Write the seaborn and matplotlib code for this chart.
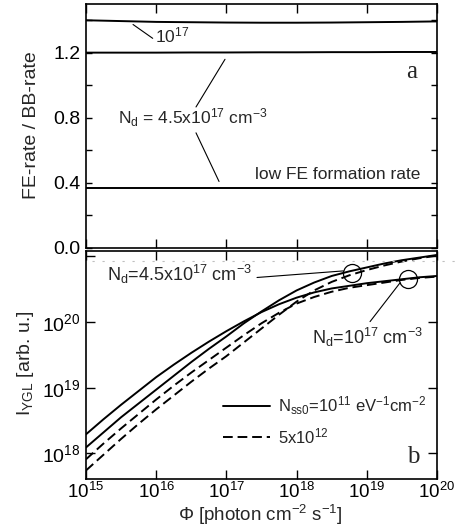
import numpy as np
import pandas as pd
import matplotlib
matplotlib.use("Agg")
import matplotlib.pyplot as plt
import seaborn as sns
from matplotlib.lines import Line2D
from matplotlib.ticker import FixedLocator, NullLocator, FixedFormatter

# panel a x grid, log10 of photon flux
log_flux_a = [15, 15.5, 16, 16.5, 17, 17.5, 18, 18.5, 19, 19.5, 20]

# panel a: FE-rate / BB-rate
ratio_nd1e17 = [1.400, 1.395, 1.390, 1.388, 1.386, 1.385, 1.385, 1.386, 1.388, 1.390, 1.393]
ratio_nd45e17 = [1.201, 1.201, 1.201, 1.202, 1.202, 1.203, 1.203, 1.204, 1.204, 1.205, 1.205]
ratio_low_fe = [0.367, 0.367, 0.367, 0.367, 0.367, 0.367, 0.367, 0.367, 0.367, 0.367, 0.367]

# panel b x grid
log_flux_b = [15, 15.25, 15.5, 15.75, 16, 16.25, 16.5, 16.75, 17, 17.25, 17.5,
              17.75, 18, 18.25, 18.5, 18.75, 19, 19.25, 19.5, 19.75, 20]

# panel b: log10 of I_YGL
iygl_nd1e17_nss1e11 = [18.29, 18.52, 18.74, 18.95, 19.16, 19.35, 19.53, 19.70, 19.86, 20.01, 20.15,
                       20.27, 20.37, 20.45, 20.51, 20.55, 20.59, 20.62, 20.65, 20.68, 20.70]
iygl_nd45e17_nss1e11 = [18.09, 18.32, 18.55, 18.76, 18.97, 19.18, 19.39, 19.59, 19.78, 19.98, 20.16,
                        20.33, 20.48, 20.60, 20.70, 20.77, 20.83, 20.89, 20.94, 20.98, 21.02]
iygl_nd1e17_nss5e12 = [17.91, 18.15, 18.38, 18.60, 18.82, 19.03, 19.23, 19.42, 19.61, 19.80, 19.98,
                       20.14, 20.28, 20.38, 20.46, 20.52, 20.56, 20.60, 20.64, 20.67, 20.69]
iygl_nd45e17_nss5e12 = [17.74, 17.98, 18.22, 18.45, 18.67, 18.88, 19.09, 19.29, 19.48, 19.69, 19.90,
                        20.11, 20.31, 20.48, 20.61, 20.71, 20.79, 20.86, 20.92, 20.97, 21.01]

sns.set_style("ticks")
plt.rcParams["font.family"] = ["Liberation Sans", "DejaVu Sans"]
plt.rcParams["mathtext.default"] = "regular"
plt.rcParams["axes.linewidth"] = 1.2
plt.rcParams["axes.edgecolor"] = "black"
plt.rcParams["xtick.color"] = "black"
plt.rcParams["ytick.color"] = "black"

flux_a = [10 ** v for v in log_flux_a]
flux_b = [10 ** v for v in log_flux_b]

df_a = pd.concat([
    pd.DataFrame({"flux": flux_a, "ratio": ratio_nd1e17, "case": "nd1e17"}),
    pd.DataFrame({"flux": flux_a, "ratio": ratio_nd45e17, "case": "nd45e17"}),
    pd.DataFrame({"flux": flux_a, "ratio": ratio_low_fe, "case": "lowfe"}),
])

rows = []
for vals, nd, nss in [(iygl_nd1e17_nss1e11, "1e17", "1e11"),
                      (iygl_nd45e17_nss1e11, "4.5e17", "1e11"),
                      (iygl_nd1e17_nss5e12, "1e17", "5e12"),
                      (iygl_nd45e17_nss5e12, "4.5e17", "5e12")]:
    rows.append(pd.DataFrame({"flux": flux_b, "I": [10 ** v for v in vals], "Nd": nd, "Nss": nss}))
df_b = pd.concat(rows)

fig = plt.figure(figsize=(4.68, 5.26), dpi=100)
ax1 = fig.add_axes([86 / 468, 1 - 248 / 526, 351 / 468, 244 / 526])
ax2 = fig.add_axes([86 / 468, 1 - 479 / 526, 351 / 468, 228 / 526])

# ---- panel a
ax1.set_xscale("log")
sns.lineplot(data=df_a, x="flux", y="ratio", units="case", estimator=None,
             color="black", lw=1.4, ax=ax1, legend=False)
ax1.set_xlim(1e15, 1e20)
ax1.set_ylim(0, 1.5)
ax1.xaxis.set_major_locator(FixedLocator([1e15, 1e16, 1e17, 1e18, 1e19, 1e20]))
ax1.xaxis.set_minor_locator(NullLocator())
ax1.yaxis.set_major_locator(FixedLocator([0.0, 0.2, 0.4, 0.6, 0.8, 1.0, 1.2, 1.4]))
ax1.yaxis.set_major_formatter(FixedFormatter(["0.0", "", "0.4", "", "0.8", "", "1.2", ""]))
ax1.tick_params(axis="x", direction="in", length=6.5, width=1, top=True, bottom=True,
                labelbottom=False)
ax1.tick_params(axis="y", direction="in", length=4.5, width=1, left=True, right=True,
                labelsize=14, pad=4)
ax1.set_xlabel("")
ax1.set_ylabel("")

ax1.text(10 ** 15.98, 1.307, "10$^{17}$", fontsize=12.5, ha="left", va="center")
ax1.plot([10 ** 15.67, 10 ** 15.95], [1.374, 1.289], color="black", lw=0.8)
ax1.text(10 ** 15.456, 0.80, "N$_{d}$ = 4.5x10$^{17}$ cm$^{-3}$", fontsize=12.5,
         ha="left", va="center")
ax1.plot([10 ** 16.567, 10 ** 16.98], [0.867, 1.160], color="black", lw=0.8)
ax1.plot([10 ** 16.567, 10 ** 16.895], [0.708, 0.409], color="black", lw=0.8)
ax1.text(10 ** 19.77, 0.452, "low FE formation rate", fontsize=12.5, ha="right", va="center")
ax1.text(10 ** 19.644, 1.081, "a", fontsize=18, family="Liberation Serif",
         ha="center", va="center")

# ---- panel b
ax2.set_xscale("log")
ax2.set_yscale("log")
sns.lineplot(data=df_b, x="flux", y="I", style="Nss", units="Nd", estimator=None,
             color="black", lw=1.4, dashes={"1e11": "", "5e12": (5, 2.5)},
             ax=ax2, legend=False)
ax2.set_xlim(1e15, 1e20)
ax2.set_ylim(10 ** 17.61, 10 ** 21.08)
ax2.xaxis.set_major_locator(FixedLocator([1e15, 1e16, 1e17, 1e18, 1e19, 1e20]))
ax2.xaxis.set_minor_locator(NullLocator())
ax2.xaxis.set_major_formatter(FixedFormatter(["10$^{15}$", "10$^{16}$", "10$^{17}$",
                                              "10$^{18}$", "10$^{19}$", "10$^{20}$"]))
ax2.yaxis.set_major_locator(FixedLocator([1e18, 1e19, 1e20, 1e21]))
ax2.yaxis.set_minor_locator(NullLocator())
ax2.yaxis.set_major_formatter(FixedFormatter(["10$^{18}$", "10$^{19}$", "10$^{20}$", ""]))
ax2.tick_params(axis="x", direction="in", length=6.5, width=1, top=True, bottom=True,
                labelsize=13.5, pad=2)
ax2.tick_params(axis="y", direction="in", length=6.5, width=1, left=True, right=True,
                labelsize=14, pad=4)
ax2.set_xlabel("")
ax2.set_ylabel("")

ax2.text(10 ** 15.30, 10 ** 20.717, "N$_{d}$=4.5x10$^{17}$ cm$^{-3}$", fontsize=13,
         ha="left", va="center")
ax2.plot([10 ** 17.436, 10 ** 18.665], [10 ** 20.677, 10 ** 20.777], color="black", lw=0.8)
ax2.plot([10 ** 18.79, 10 ** 19.58], [10 ** 20.75, 10 ** 20.65], ls="none", marker="o",
         markersize=13, mfc="none", mec="black", mew=0.9)
ax2.plot([10 ** 19.046, 10 ** 19.473], [10 ** 20.005, 10 ** 20.595], color="black", lw=0.8)
ax2.text(10 ** 18.215, 10 ** 19.758, "N$_{d}$=10$^{17}$ cm$^{-3}$", fontsize=13,
         ha="left", va="center")
ax2.text(10 ** 19.66, 10 ** 17.94, "b", fontsize=18, family="Liberation Serif",
         ha="center", va="center")

handles = [Line2D([], [], color="black", lw=1.4),
           Line2D([], [], color="black", lw=1.4, dashes=(5, 2.5))]
ax2.legend(handles, ["N$_{ss0}$=10$^{11}$ eV$^{-1}$cm$^{-2}$", "5x10$^{12}$"],
           loc="upper left", bbox_to_anchor=(0.39, 0.37), frameon=False,
           fontsize=12, handlelength=2.8, handletextpad=0.5, labelspacing=0.55,
           borderpad=0, borderaxespad=0)

# faint scan artefact line near the top of panel b
fig.add_artist(Line2D([92 / 468, 455 / 468], [1 - 261 / 526] * 2, color="0.75",
                      lw=0.8, ls=(0, (2, 7))))

fig.text(32 / 468, 1 - 125 / 526, "FE-rate / BB-rate", rotation=90, fontsize=14,
         ha="center", va="center")
fig.text(25 / 468, 1 - 363 / 526, "I$_{YGL}$ [arb. u.]", rotation=90, fontsize=14,
         ha="center", va="center")
fig.text(260 / 468, 1 - 515 / 526, "$\\Phi$ [photon cm$^{-2}$ s$^{-1}$]", fontsize=13.5,
         ha="center", va="center")

fig.savefig("out.png", dpi=100)
